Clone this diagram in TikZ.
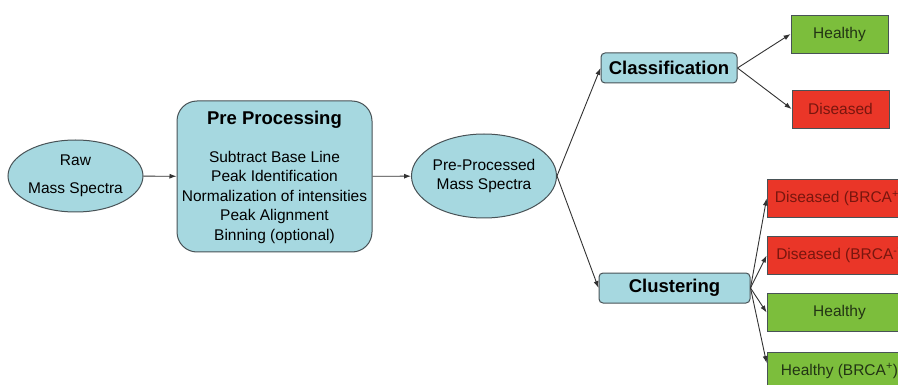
\documentclass[tikz,border=0pt]{standalone}
\usepackage{fontspec}
\setmainfont{Liberation Sans}
\usepackage{tikz}
\usetikzlibrary{shapes.geometric}
\usetikzlibrary{arrows.meta}

\definecolor{stagefill}{RGB}{166,216,224}
\definecolor{edgegray}{RGB}{72,82,86}
\definecolor{goodfill}{RGB}{124,190,60}
\definecolor{goodtext}{RGB}{34,52,20}
\definecolor{badfill}{RGB}{234,54,40}
\definecolor{badtext}{RGB}{120,22,14}
\definecolor{flowgray}{RGB}{50,50,50}

\begin{document}
\begin{tikzpicture}[x=1pt,y=-1pt,
    font=\fontsize{15.5}{19.5}\selectfont,
    oval/.style={ellipse,draw=edgegray,fill=stagefill,line width=1pt,inner sep=0pt,align=center},
    stage/.style={rectangle,rounded corners=4pt,draw=edgegray,fill=stagefill,line width=1pt,
      minimum height=30pt,inner sep=0pt,font=\bfseries\fontsize{18.5}{22}\selectfont},
    good/.style={rectangle,draw=edgegray,fill=goodfill,text=goodtext,line width=0.8pt,
      minimum height=38pt,inner sep=0pt},
    bad/.style={rectangle,draw=edgegray,fill=badfill,text=badtext,line width=0.8pt,
      minimum height=38pt,inner sep=0pt},
    flow/.style={draw=flowgray,line width=0.9pt,-{Latex[length=7pt,width=5pt]}}]
  \useasboundingbox (0,0) rectangle (898,385);
  \clip (0,0) rectangle (898,385);

  % input and pre processing
  \node[oval,minimum width=135pt,minimum height=72pt] (raw) at (75.5,176)
    {Raw\\[8.5pt]Mass Spectra};
  \node[rectangle,rounded corners=20pt,draw=edgegray,fill=stagefill,line width=1pt,
    minimum width=195pt,minimum height=151pt] (pre) at (274.5,176.5) {};
  \node[font=\bfseries\fontsize{18.5}{22}\selectfont] (pretitle) at (274.5,120) {Pre Processing};
  \node[align=center] (presteps) at (274.5,197)
    {Subtract Base Line\\Peak Identification\\Normalization of intensities\\Peak Alignment\\Binning (optional)};
  \node[oval,minimum width=145pt,minimum height=84pt] (spectra) at (484,176)
    {Pre-Processed\\Mass Spectra};

  % analysis
  \node[stage,minimum width=136pt] (classif) at (669,68) {Classification};
  \node[stage,minimum width=151pt] (cluster) at (674.5,288) {Clustering};

  % outcomes
  \node[good,minimum width=97pt] (healthyA) at (839.5,34) {Healthy};
  \node[bad,minimum width=97pt] (diseasedA) at (840.5,109) {Diseased};
  \node[bad,minimum width=145pt] (diseasedP) at (839.5,198.5) {Diseased (BRCA\textsuperscript{+})};
  \node[bad,minimum width=145pt] (diseasedM) at (839.5,255.5) {Diseased (BRCA\textsuperscript{-})};
  \node[good,minimum width=145pt] (healthyB) at (839.5,312.5) {Healthy};
  \node[good,minimum width=145pt] (healthyP) at (839.5,371) {Healthy (BRCA\textsuperscript{+})};

  \draw[flow] (raw) -- (pre);
  \draw[flow] (pre) -- (spectra);
  \draw[flow] (spectra.east) -- (classif.west);
  \draw[flow] (spectra.east) -- (cluster.west);
  \draw[flow] (classif.east) -- (healthyA.west);
  \draw[flow] (classif.east) -- (diseasedA.west);
  \draw[flow] (cluster.east) -- (diseasedP.west);
  \draw[flow] (cluster.east) -- (diseasedM.west);
  \draw[flow] (cluster.east) -- (healthyB.west);
  \draw[flow] (cluster.east) -- ([yshift=8pt]healthyP.west);
\end{tikzpicture}
\end{document}
